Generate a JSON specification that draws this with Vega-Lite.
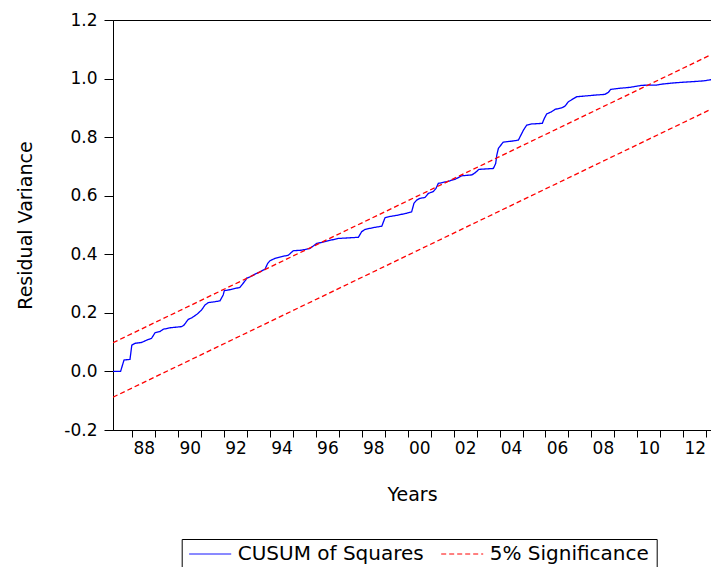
{
  "$schema": "https://vega.github.io/schema/vega-lite/v6.json",
  "autosize": {"type": "none"},
  "padding": {"left": 113, "top": 20, "right": 0, "bottom": 137},
  "width": 598,
  "height": 410,
  "background": "white",
  "config": {
    "view": {"stroke": "black", "strokeWidth": 1},
    "font": "DejaVu Sans"
  },
  "datasets": {
    "series": [
      {"t": 1987.16, "v": 0.0, "s": "CUSUM of Squares", "b": "c"},
      {"t": 1987.49, "v": 0.0, "s": "CUSUM of Squares", "b": "c"},
      {"t": 1987.64, "v": 0.039, "s": "CUSUM of Squares", "b": "c"},
      {"t": 1987.9, "v": 0.041, "s": "CUSUM of Squares", "b": "c"},
      {"t": 1987.98, "v": 0.09, "s": "CUSUM of Squares", "b": "c"},
      {"t": 1988.12, "v": 0.096, "s": "CUSUM of Squares", "b": "c"},
      {"t": 1988.41, "v": 0.099, "s": "CUSUM of Squares", "b": "c"},
      {"t": 1988.63, "v": 0.107, "s": "CUSUM of Squares", "b": "c"},
      {"t": 1988.84, "v": 0.113, "s": "CUSUM of Squares", "b": "c"},
      {"t": 1988.99, "v": 0.132, "s": "CUSUM of Squares", "b": "c"},
      {"t": 1989.2, "v": 0.136, "s": "CUSUM of Squares", "b": "c"},
      {"t": 1989.35, "v": 0.144, "s": "CUSUM of Squares", "b": "c"},
      {"t": 1989.64, "v": 0.149, "s": "CUSUM of Squares", "b": "c"},
      {"t": 1990.15, "v": 0.153, "s": "CUSUM of Squares", "b": "c"},
      {"t": 1990.25, "v": 0.158, "s": "CUSUM of Squares", "b": "c"},
      {"t": 1990.44, "v": 0.178, "s": "CUSUM of Squares", "b": "c"},
      {"t": 1990.59, "v": 0.183, "s": "CUSUM of Squares", "b": "c"},
      {"t": 1990.83, "v": 0.196, "s": "CUSUM of Squares", "b": "c"},
      {"t": 1991.02, "v": 0.21, "s": "CUSUM of Squares", "b": "c"},
      {"t": 1991.17, "v": 0.227, "s": "CUSUM of Squares", "b": "c"},
      {"t": 1991.31, "v": 0.235, "s": "CUSUM of Squares", "b": "c"},
      {"t": 1991.6, "v": 0.238, "s": "CUSUM of Squares", "b": "c"},
      {"t": 1991.82, "v": 0.241, "s": "CUSUM of Squares", "b": "c"},
      {"t": 1991.96, "v": 0.261, "s": "CUSUM of Squares", "b": "c"},
      {"t": 1992.01, "v": 0.276, "s": "CUSUM of Squares", "b": "c"},
      {"t": 1992.18, "v": 0.278, "s": "CUSUM of Squares", "b": "c"},
      {"t": 1992.69, "v": 0.287, "s": "CUSUM of Squares", "b": "c"},
      {"t": 1992.94, "v": 0.312, "s": "CUSUM of Squares", "b": "c"},
      {"t": 1992.98, "v": 0.318, "s": "CUSUM of Squares", "b": "c"},
      {"t": 1993.13, "v": 0.323, "s": "CUSUM of Squares", "b": "c"},
      {"t": 1993.42, "v": 0.335, "s": "CUSUM of Squares", "b": "c"},
      {"t": 1993.56, "v": 0.34, "s": "CUSUM of Squares", "b": "c"},
      {"t": 1993.78, "v": 0.349, "s": "CUSUM of Squares", "b": "c"},
      {"t": 1993.9, "v": 0.369, "s": "CUSUM of Squares", "b": "c"},
      {"t": 1994.0, "v": 0.378, "s": "CUSUM of Squares", "b": "c"},
      {"t": 1994.22, "v": 0.386, "s": "CUSUM of Squares", "b": "c"},
      {"t": 1994.51, "v": 0.392, "s": "CUSUM of Squares", "b": "c"},
      {"t": 1994.8, "v": 0.397, "s": "CUSUM of Squares", "b": "c"},
      {"t": 1995.01, "v": 0.412, "s": "CUSUM of Squares", "b": "c"},
      {"t": 1995.38, "v": 0.414, "s": "CUSUM of Squares", "b": "c"},
      {"t": 1995.74, "v": 0.42, "s": "CUSUM of Squares", "b": "c"},
      {"t": 1995.88, "v": 0.428, "s": "CUSUM of Squares", "b": "c"},
      {"t": 1996.03, "v": 0.437, "s": "CUSUM of Squares", "b": "c"},
      {"t": 1996.39, "v": 0.443, "s": "CUSUM of Squares", "b": "c"},
      {"t": 1996.69, "v": 0.449, "s": "CUSUM of Squares", "b": "c"},
      {"t": 1996.97, "v": 0.454, "s": "CUSUM of Squares", "b": "c"},
      {"t": 1997.85, "v": 0.458, "s": "CUSUM of Squares", "b": "c"},
      {"t": 1997.99, "v": 0.477, "s": "CUSUM of Squares", "b": "c"},
      {"t": 1998.14, "v": 0.485, "s": "CUSUM of Squares", "b": "c"},
      {"t": 1998.5, "v": 0.491, "s": "CUSUM of Squares", "b": "c"},
      {"t": 1998.87, "v": 0.496, "s": "CUSUM of Squares", "b": "c"},
      {"t": 1999.01, "v": 0.525, "s": "CUSUM of Squares", "b": "c"},
      {"t": 1999.15, "v": 0.528, "s": "CUSUM of Squares", "b": "c"},
      {"t": 1999.52, "v": 0.533, "s": "CUSUM of Squares", "b": "c"},
      {"t": 1999.95, "v": 0.54, "s": "CUSUM of Squares", "b": "c"},
      {"t": 2000.17, "v": 0.545, "s": "CUSUM of Squares", "b": "c"},
      {"t": 2000.27, "v": 0.574, "s": "CUSUM of Squares", "b": "c"},
      {"t": 2000.39, "v": 0.585, "s": "CUSUM of Squares", "b": "c"},
      {"t": 2000.53, "v": 0.591, "s": "CUSUM of Squares", "b": "c"},
      {"t": 2000.75, "v": 0.594, "s": "CUSUM of Squares", "b": "c"},
      {"t": 2000.9, "v": 0.608, "s": "CUSUM of Squares", "b": "c"},
      {"t": 2001.11, "v": 0.614, "s": "CUSUM of Squares", "b": "c"},
      {"t": 2001.23, "v": 0.625, "s": "CUSUM of Squares", "b": "c"},
      {"t": 2001.33, "v": 0.642, "s": "CUSUM of Squares", "b": "c"},
      {"t": 2001.7, "v": 0.648, "s": "CUSUM of Squares", "b": "c"},
      {"t": 2002.06, "v": 0.656, "s": "CUSUM of Squares", "b": "c"},
      {"t": 2002.35, "v": 0.668, "s": "CUSUM of Squares", "b": "c"},
      {"t": 2002.79, "v": 0.671, "s": "CUSUM of Squares", "b": "c"},
      {"t": 2002.93, "v": 0.678, "s": "CUSUM of Squares", "b": "c"},
      {"t": 2003.1, "v": 0.69, "s": "CUSUM of Squares", "b": "c"},
      {"t": 2003.73, "v": 0.693, "s": "CUSUM of Squares", "b": "c"},
      {"t": 2003.83, "v": 0.71, "s": "CUSUM of Squares", "b": "c"},
      {"t": 2003.88, "v": 0.739, "s": "CUSUM of Squares", "b": "c"},
      {"t": 2003.95, "v": 0.762, "s": "CUSUM of Squares", "b": "c"},
      {"t": 2004.16, "v": 0.783, "s": "CUSUM of Squares", "b": "c"},
      {"t": 2004.6, "v": 0.787, "s": "CUSUM of Squares", "b": "c"},
      {"t": 2004.82, "v": 0.79, "s": "CUSUM of Squares", "b": "c"},
      {"t": 2004.93, "v": 0.807, "s": "CUSUM of Squares", "b": "c"},
      {"t": 2005.04, "v": 0.824, "s": "CUSUM of Squares", "b": "c"},
      {"t": 2005.18, "v": 0.841, "s": "CUSUM of Squares", "b": "c"},
      {"t": 2005.4, "v": 0.845, "s": "CUSUM of Squares", "b": "c"},
      {"t": 2005.86, "v": 0.847, "s": "CUSUM of Squares", "b": "c"},
      {"t": 2005.95, "v": 0.864, "s": "CUSUM of Squares", "b": "c"},
      {"t": 2006.05, "v": 0.879, "s": "CUSUM of Squares", "b": "c"},
      {"t": 2006.27, "v": 0.887, "s": "CUSUM of Squares", "b": "c"},
      {"t": 2006.42, "v": 0.895, "s": "CUSUM of Squares", "b": "c"},
      {"t": 2006.71, "v": 0.9, "s": "CUSUM of Squares", "b": "c"},
      {"t": 2006.85, "v": 0.906, "s": "CUSUM of Squares", "b": "c"},
      {"t": 2007.0, "v": 0.921, "s": "CUSUM of Squares", "b": "c"},
      {"t": 2007.21, "v": 0.931, "s": "CUSUM of Squares", "b": "c"},
      {"t": 2007.36, "v": 0.938, "s": "CUSUM of Squares", "b": "c"},
      {"t": 2007.8, "v": 0.941, "s": "CUSUM of Squares", "b": "c"},
      {"t": 2008.23, "v": 0.944, "s": "CUSUM of Squares", "b": "c"},
      {"t": 2008.59, "v": 0.946, "s": "CUSUM of Squares", "b": "c"},
      {"t": 2008.74, "v": 0.953, "s": "CUSUM of Squares", "b": "c"},
      {"t": 2008.84, "v": 0.963, "s": "CUSUM of Squares", "b": "c"},
      {"t": 2009.25, "v": 0.967, "s": "CUSUM of Squares", "b": "c"},
      {"t": 2009.68, "v": 0.97, "s": "CUSUM of Squares", "b": "c"},
      {"t": 2009.98, "v": 0.974, "s": "CUSUM of Squares", "b": "c"},
      {"t": 2010.19, "v": 0.977, "s": "CUSUM of Squares", "b": "c"},
      {"t": 2010.85, "v": 0.978, "s": "CUSUM of Squares", "b": "c"},
      {"t": 2011.07, "v": 0.981, "s": "CUSUM of Squares", "b": "c"},
      {"t": 2011.43, "v": 0.984, "s": "CUSUM of Squares", "b": "c"},
      {"t": 2011.72, "v": 0.986, "s": "CUSUM of Squares", "b": "c"},
      {"t": 2012.3, "v": 0.989, "s": "CUSUM of Squares", "b": "c"},
      {"t": 2012.88, "v": 0.992, "s": "CUSUM of Squares", "b": "c"},
      {"t": 2013.52, "v": 1.0, "s": "CUSUM of Squares", "b": "c"},
      {"t": 1987.16, "v": 0.098, "s": "5% Significance", "b": "upper"},
      {"t": 2013.52, "v": 1.093, "s": "5% Significance", "b": "upper"},
      {"t": 1987.16, "v": -0.088, "s": "5% Significance", "b": "lower"},
      {"t": 2013.52, "v": 0.907, "s": "5% Significance", "b": "lower"}
    ]
  },
  "layer": [
    {
      "mark": {"type": "rule", "color": "#333333", "strokeWidth": 1},
      "encoding": {"y": {"datum": 0, "type": "quantitative"}}
    },
    {
      "data": {"name": "series"},
      "mark": {"type": "line", "strokeWidth": 1.3, "clip": true},
      "encoding": {
        "x": {
          "field": "t",
          "type": "quantitative",
          "scale": {"domain": [1987.16, 2013.21], "nice": false, "zero": false},
          "axis": {
            "title": "Years",
            "values": [1988, 1989, 1990, 1991, 1992, 1993, 1994, 1995, 1996, 1997, 1998, 1999, 2000, 2001, 2002, 2003, 2004, 2005, 2006, 2007, 2008, 2009, 2010, 2011, 2012, 2013],
            "labelExpr": "datum.value % 2 == 0 ? format(datum.value % 100, '02d') : ''",
            "labelOffset": 11.5,
            "labelFlush": false,
            "labelOverlap": false,
            "labelBound": false,
            "grid": false,
            "tickSize": 7,
            "tickColor": "black",
            "domainColor": "black",
            "labelColor": "black",
            "labelPadding": 3,
            "labelFont": "DejaVu Sans",
            "labelFontSize": 17,
            "titleFont": "DejaVu Sans",
            "titleFontSize": 19,
            "titleFontWeight": "normal",
            "titleColor": "black",
            "titlePadding": 29
          }
        },
        "y": {
          "field": "v",
          "type": "quantitative",
          "scale": {"domain": [-0.2, 1.2], "nice": false, "zero": false},
          "axis": {
            "title": "Residual Variance",
            "values": [-0.2, 0, 0.2, 0.4, 0.6, 0.8, 1.0, 1.2],
            "labelExpr": "datum.value < 0 ? '-' + format(-datum.value, '.1f') : format(datum.value, '.1f')",
            "grid": false,
            "tickSize": 9,
            "tickColor": "black",
            "domainColor": "black",
            "labelColor": "black",
            "labelPadding": 7,
            "labelFont": "DejaVu Sans",
            "labelFontSize": 17,
            "titleFont": "DejaVu Sans",
            "titleFontSize": 19,
            "titleFontWeight": "normal",
            "titleColor": "black",
            "titlePadding": 28
          }
        },
        "detail": {"field": "b"},
        "color": {
          "field": "s",
          "type": "nominal",
          "scale": {"domain": ["CUSUM of Squares", "5% Significance"], "range": ["#0000FF", "#FF0000"]},
          "legend": {
            "title": null,
            "orient": "none",
            "legendX": 68.7,
            "legendY": 519,
            "direction": "horizontal",
            "symbolType": "stroke",
            "symbolSize": 1764,
            "symbolStrokeWidth": 1,
            "clipHeight": 16,
            "labelFont": "DejaVu Sans",
            "labelFontSize": 20,
            "labelColor": "black",
            "labelLimit": 400,
            "strokeColor": "black",
            "padding": 7,
            "columnPadding": 16,
            "labelOffset": 6,
            "symbolOffset": 0
          }
        },
        "strokeDash": {
          "field": "s",
          "type": "nominal",
          "scale": {"domain": ["CUSUM of Squares", "5% Significance"], "range": [[1, 0], [5, 3]]},
          "legend": {
            "title": null,
            "orient": "none",
            "legendX": 68.7,
            "legendY": 519,
            "direction": "horizontal",
            "symbolType": "stroke",
            "symbolSize": 1764,
            "symbolStrokeWidth": 1,
            "clipHeight": 16,
            "labelFont": "DejaVu Sans",
            "labelFontSize": 20,
            "labelColor": "black",
            "labelLimit": 400,
            "strokeColor": "black",
            "padding": 7,
            "columnPadding": 16,
            "labelOffset": 6,
            "symbolOffset": 0
          }
        }
      }
    }
  ]
}
